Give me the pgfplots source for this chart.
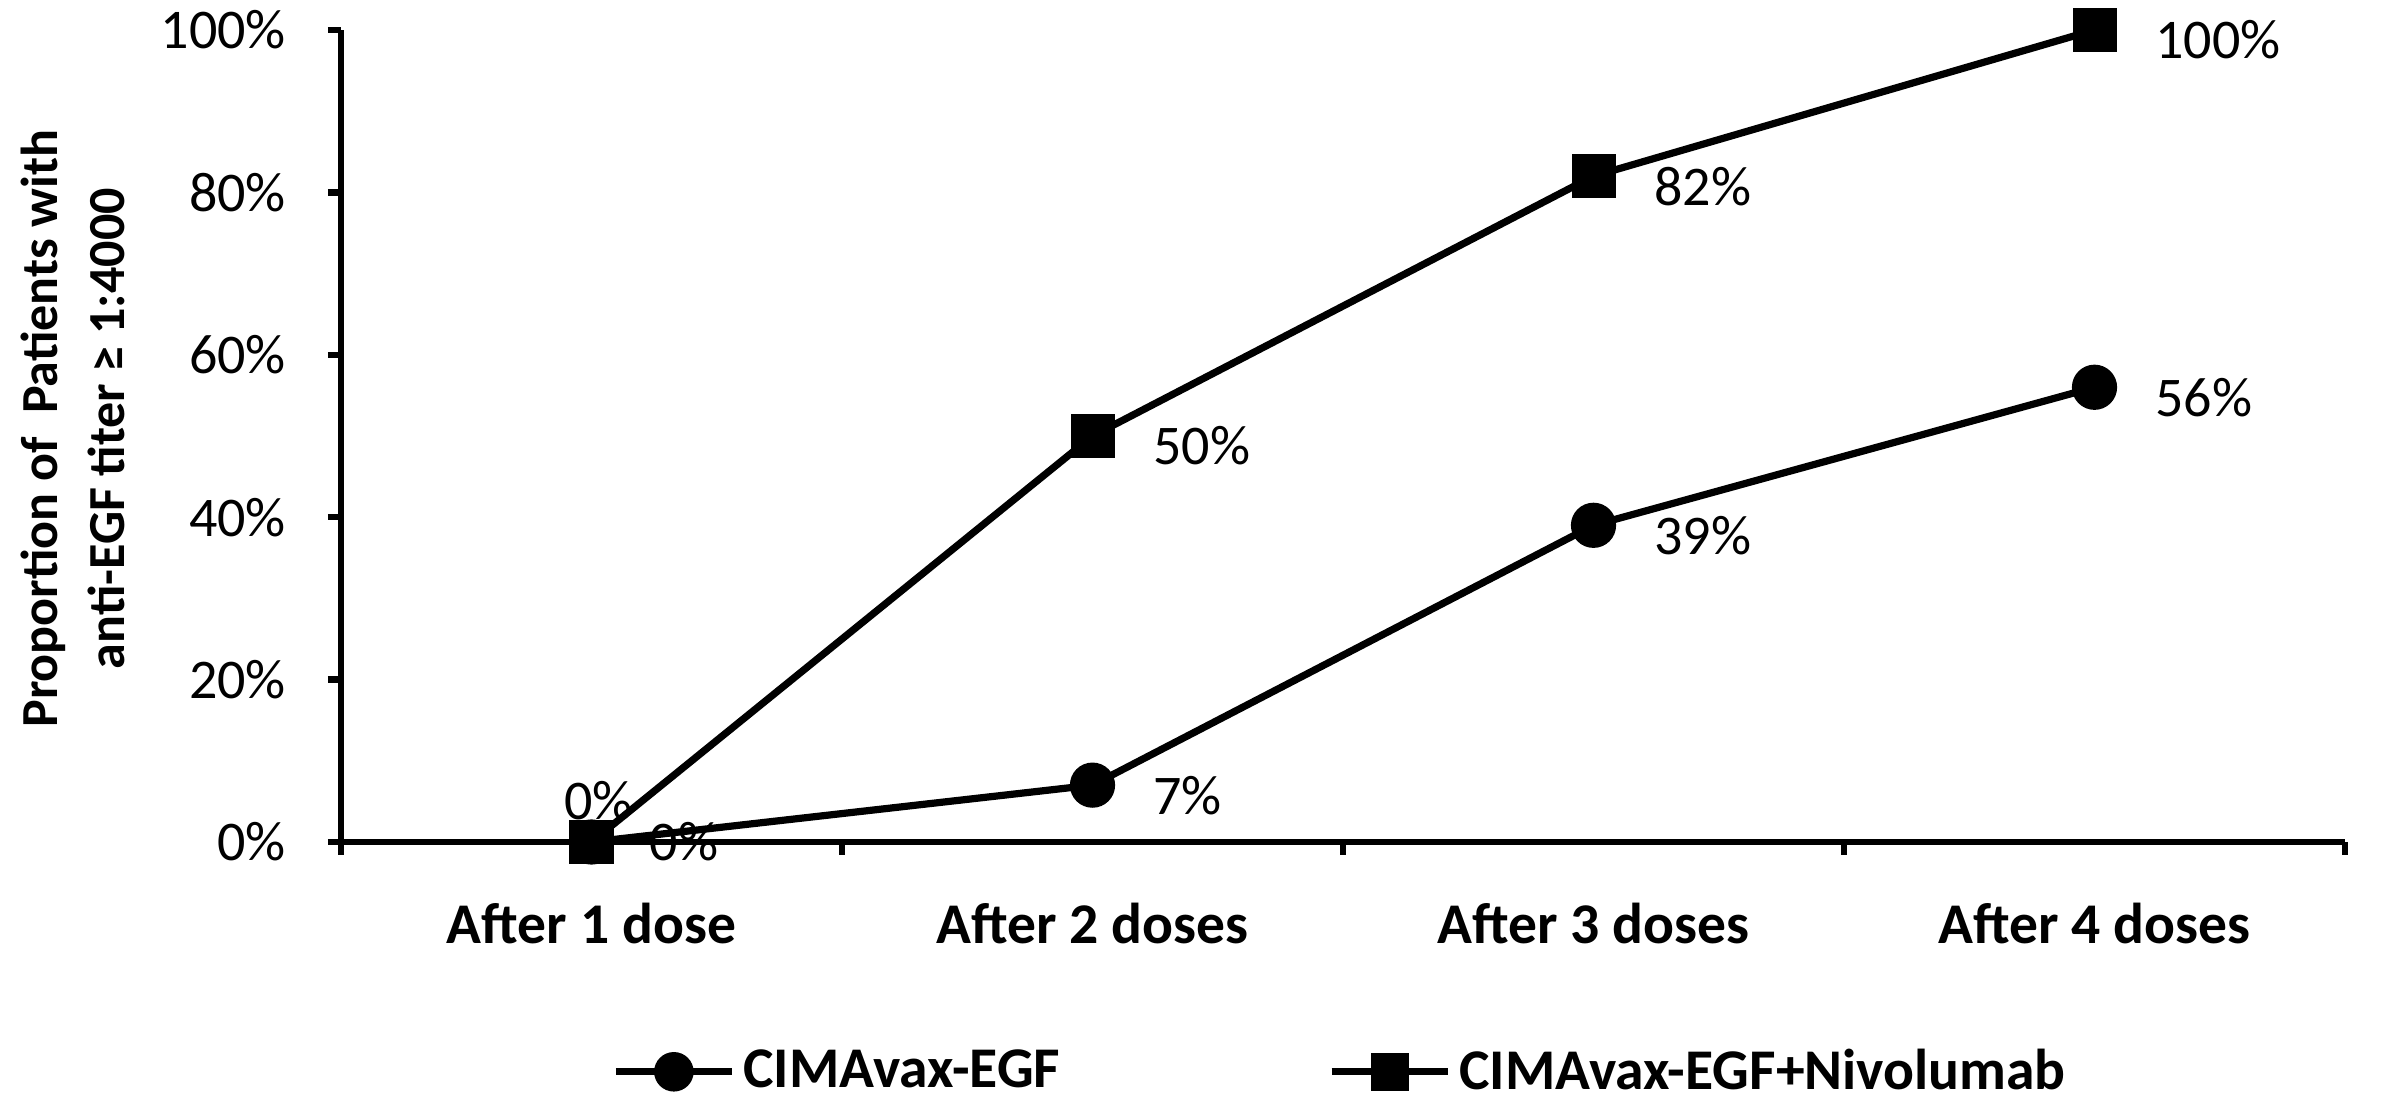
\documentclass[border=0pt]{standalone}
\usepackage{fontspec}
\setmainfont{Carlito}
\usepackage{pgfplots}
\pgfplotsset{compat=1.18}
\begin{document}
\begin{tikzpicture}
\begin{axis}[
  scale only axis,
  width=501pt, height=203pt,
  xmin=0.5, xmax=4.5, ymin=0, ymax=100,
  axis lines*=left,
  axis line style={line width=1.6pt},
  tick align=outside,
  major tick length=3.25pt,
  minor tick length=3.25pt,
  every tick/.style={black, line width=1.6pt},
  xtick={1,2,3,4},
  xticklabels={After 1 dose, After 2 doses, After 3 doses, After 4 doses},
  major x tick style={draw=none},
  minor xtick={0.5,1.5,2.5,3.5,4.5},
  ytick={0,20,40,60,80,100},
  yticklabels={0\%,20\%,40\%,60\%,80\%,100\%},
  /pgf/number format/assume math mode=true,
  xticklabel style={font=\bfseries\fontsize{14.4}{17}\selectfont, yshift=-8.5pt},
  yticklabel style={font=\fontsize{14}{17}\selectfont, xshift=-7pt},
  ylabel={Proportion of\ \ Patients with\\anti-EGF titer ≥ 1:4000},
  ylabel style={at={(axis description cs:-0.134,0.509)}, anchor=center, align=center, font=\bfseries\fontsize{13}{16.75}\selectfont},
  clip=false,
  legend style={at={(axis description cs:0.5,-0.283)}, anchor=center, draw=none, fill=none, legend columns=2,
    font=\bfseries\fontsize{14.4}{17}\selectfont,
    /tikz/every even column/.append style={column sep=65pt}},
  legend image code/.code={\draw[mark repeat=2,mark phase=2, every mark/.append style={scale=0.85}] plot coordinates {(0pt,0pt) (14.5pt,0pt) (29pt,0pt)};},
  visualization depends on={value \coordindex \as \ptidx},
  nodes near coords={\ifnum\ptidx=0 \else\pgfmathprintnumber{\pgfplotspointmeta}\%\fi},
  every node near coord/.append style={anchor=west, xshift=11pt, yshift=-2.5pt, font=\fontsize{14}{17}\selectfont, text=black},
]
\addplot[black, line width=1.8pt, mark=*, mark size=4.75pt, mark options={solid, fill=black}]
  coordinates {(1,0) (2,7) (3,39) (4,56)};
\addlegendentry{CIMAvax-EGF}
\addplot[black, line width=1.8pt, mark=square*, mark size=4.6pt, mark options={solid, fill=black}]
  coordinates {(1,0) (2,50) (3,82) (4,100)};
\addlegendentry{CIMAvax-EGF+Nivolumab}
% labels of the first point of each series
\addplot[draw=none, mark=none, forget plot,
  nodes near coords={\pgfmathprintnumber{\pgfplotspointmeta}\%},
  every node near coord/.style={anchor=west, xshift=11pt, font=\fontsize{14}{17}\selectfont, text=black}]
  coordinates {(1,0)};
\addplot[draw=none, mark=none, forget plot,
  nodes near coords={\pgfmathprintnumber{\pgfplotspointmeta}\%},
  every node near coord/.style={anchor=south, xshift=1.75pt, yshift=2pt, font=\fontsize{14}{17}\selectfont, text=black}]
  coordinates {(1,0)};
\coordinate (bl) at (rel axis cs:0,0);
\coordinate (tr) at (rel axis cs:1,1);
\end{axis}
\pgfresetboundingbox
\path ([xshift=-85.25pt,yshift=-64pt]bl) rectangle ([xshift=9.25pt,yshift=7.5pt]tr);
\end{tikzpicture}
\end{document}
